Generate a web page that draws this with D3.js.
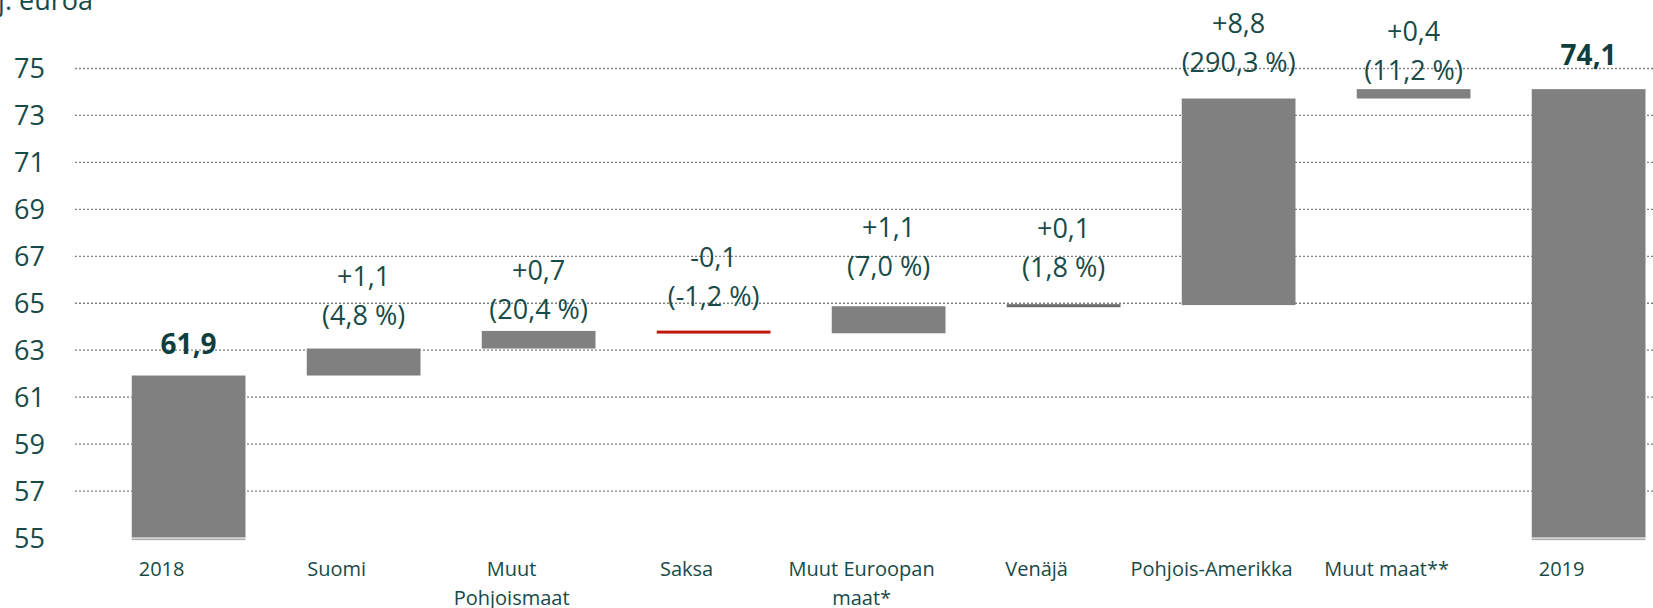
<!DOCTYPE html>
<html>
<head>
<meta charset="utf-8">
<style>
  body { margin: 0; background: #fff; }
  svg { display: block; font-family: "Open Sans", sans-serif; }
  .tick text { fill: #174a48; }
</style>
</head>
<body>
<svg id="chart" width="1653" height="608"></svg>
<script src="https://cdn.jsdelivr.net/npm/d3@7/dist/d3.min.js"></script>
<script>

// ---------------------------------------------------------------
//                           DATA
// ---------------------------------------------------------------
var categories = ["2018", "Suomi", "Muut Pohjoismaat", "Saksa",
                  "Muut Euroopan maat*", "Venäjä", "Pohjois-Amerikka",
                  "Muut maat**", "2019"];
var categoryLines = [["2018"], ["Suomi"], ["Muut", "Pohjoismaat"], ["Saksa"],
                     ["Muut Euroopan", "maat*"], ["Venäjä"], ["Pohjois-Amerikka"],
                     ["Muut maat**"], ["2019"]];
var startValue = 61.9;
var endValue = 74.1;
var changes = [1.15, 0.75, -0.1, 1.15, 0.05, 8.8, 0.4];
var changeLabels = ["+1,1", "+0,7", "-0,1", "+1,1", "+0,1", "+8,8", "+0,4"];
var pctLabels = ["(4,8 %)", "(20,4 %)", "(-1,2 %)", "(7,0 %)", "(1,8 %)",
                 "(290,3 %)", "(11,2 %)"];
var totalLabels = ["61,9", "74,1"];
var yTicks = [55, 57, 59, 61, 63, 65, 67, 69, 71, 73, 75];
var unitLabel = "Milj. euroa";

// Layout only: gap (px) between bar top and label block, per category,
// the source spreadsheet placed these a bit unevenly.
var labelGap = [22, 24, 12, 25, 30, 27, 27, 9, 24];

// ---------------------------------------------------------------
//                         BUILD ROWS
// ---------------------------------------------------------------
var rows = [];
rows.push({ name: categories[0], lo: yTicks[0], hi: startValue, kind: "total",
            labels: [totalLabels[0]] });
var run = startValue;
changes.forEach(function(c, i) {
  rows.push({ name: categories[i + 1], lo: Math.min(run, run + c),
              hi: Math.max(run, run + c), kind: c < 0 ? "neg" : "pos",
              labels: [changeLabels[i], pctLabels[i]] });
  run += c;
});
rows.push({ name: categories[8], lo: yTicks[0], hi: endValue, kind: "total",
            labels: [totalLabels[1]] });

// ---------------------------------------------------------------
//                           SCALES
// ---------------------------------------------------------------
var svg = d3.select("#chart");

var x = d3.scaleBand()
    .domain(categories)
    .range([70.5, 1706.75])
    .padding(0.35);

var y = d3.scaleLinear()
    .domain([55, 75])
    .range([537.5, 68]);

// Unit label, partly cut off on the left like the original.
svg.append("text")
    .attr("x", 93)
    .attr("y", 10)
    .attr("text-anchor", "end")
    .attr("font-size", 27)
    .attr("fill", "#174a48")
    .text(unitLabel);

// Dotted grid lines (no line at the bottom value).
svg.append("g")
  .selectAll("line")
  .data(yTicks.slice(1))
  .enter().append("line")
    .attr("x1", 75)
    .attr("x2", 1653)
    .attr("y1", function(d) { return y(d) + 0.5; })
    .attr("y2", function(d) { return y(d) + 0.5; })
    .attr("stroke", "#808080")
    .attr("stroke-width", 1.3)
    .attr("stroke-dasharray", "2,2");

// Y axis labels.
var yAxis = svg.append("g")
    .attr("transform", "translate(45,0)")
    .call(d3.axisLeft(y).tickValues(yTicks).tickSize(0).tickPadding(0)
          .tickFormat(d3.format("d")));
yAxis.select(".domain").remove();
yAxis.selectAll("text").attr("font-size", 27).attr("font-family", "Open Sans")
    .attr("dy", "0.36em");

// ---------------------------------------------------------------
//                            BARS
// ---------------------------------------------------------------
var fills = { total: "#808080", pos: "#808080", neg: "#c0180c" };

function barTop(d) {
  var h = y(d.lo) - y(d.hi);
  return h < 3 ? (y(d.lo) + y(d.hi)) / 2 - 1.5 : y(d.hi);
}

svg.append("g")
  .selectAll("rect")
  .data(rows)
  .enter().append("rect")
    .attr("x", function(d) { return x(d.name); })
    .attr("width", x.bandwidth())
    .attr("y", barTop)
    .attr("height", function(d) { return Math.max(3, y(d.lo) - y(d.hi)); })
    .attr("fill", function(d) {
      if (d.kind === "pos" && y(d.lo) - y(d.hi) < 3) return "#6a6a6a";
      return fills[d.kind];
    });

// Thin base line under the two total bars.
svg.append("g")
  .selectAll("rect")
  .data(rows.filter(function(d) { return d.kind === "total"; }))
  .enter().append("rect")
    .attr("x", function(d) { return x(d.name); })
    .attr("width", x.bandwidth())
    .attr("y", y(55) + 1)
    .attr("height", 1.6)
    .attr("fill", "#a8a8a8");

// ---------------------------------------------------------------
//                           LABELS
// ---------------------------------------------------------------
var lab = svg.append("g")
  .selectAll("text")
  .data(rows)
  .enter().append("text")
    .attr("text-anchor", "middle")
    .attr("fill", function(d) { return d.kind === "total" ? "#0f3f3d" : "#174a48"; })
    .attr("font-weight", function(d) { return d.kind === "total" ? 700 : 400; })
    .attr("font-size", function(d) { return d.kind === "total" ? 28 : 27; });

lab.selectAll("tspan")
  .data(function(d, k) {
    var cx = x(d.name) + x.bandwidth() / 2;
    var top = barTop(d);
    var n = d.labels.length;
    return d.labels.map(function(t, i) {
      return { t: t, x: cx, y: top - labelGap[k] - (n - 1 - i) * 39 };
    });
  })
  .enter().append("tspan")
    .attr("x", function(d) { return d.x; })
    .attr("y", function(d) { return d.y; })
    .text(function(d) { return d.t; });

// Category labels, shifted left of the bar centre as in the source.
var cat = svg.append("g")
  .selectAll("text")
  .data(categories)
  .enter().append("text")
    .attr("text-anchor", "middle")
    .attr("font-size", 20)
    .attr("fill", "#174a48");

cat.selectAll("tspan")
  .data(function(d, i) {
    return categoryLines[i].map(function(t, j) {
      return { t: t, x: x(d) + x.bandwidth() / 2 - 27, y: 576 + j * 29 };
    });
  })
  .enter().append("tspan")
    .attr("x", function(d) { return d.x; })
    .attr("y", function(d) { return d.y; })
    .text(function(d) { return d.t; });

</script>
</body>
</html>
